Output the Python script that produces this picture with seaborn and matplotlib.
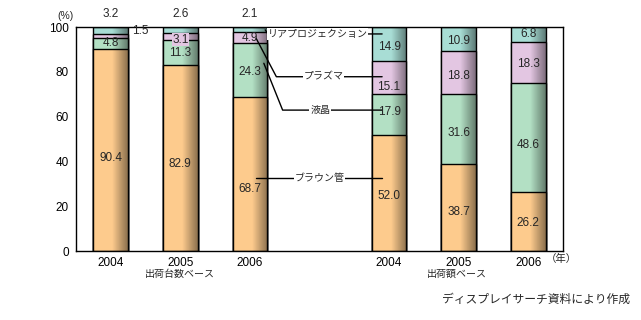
import numpy as np
import pandas as pd
import matplotlib
matplotlib.use("Agg")
import matplotlib.pyplot as plt
import seaborn as sns

# ---- data ----
positions = [0, 1, 2, 4, 5, 6]
years = ["2004", "2005", "2006", "2004", "2005", "2006"]
bases = ["出荷台数ベース", "出荷額ベース"]
series_names = ["ブラウン管", "液晶", "プラズマ", "リアプロジェクション"]
brown = [90.4, 82.9, 68.7, 52.0, 38.7, 26.2]
lcd = [4.8, 11.3, 24.3, 17.9, 31.6, 48.6]
plasma = [1.5, 3.1, 4.9, 15.1, 18.8, 18.3]
rear = [3.2, 2.6, 2.1, 14.9, 10.9, 6.8]

sns.set_style("white")
plt.rcParams["font.family"] = ["Liberation Sans", "Noto Sans CJK JP", "DejaVu Sans"]

c_orange = "#FDCB8D"
c_green = "#B3E0C4"
c_pink = "#E3C6E2"
c_teal = "#A8DDD5"

df = pd.DataFrame({"pos": positions, "year": years,
                   "brown": brown, "lcd": lcd, "plasma": plasma, "rear": rear})
df["c1"] = df["brown"]
df["c2"] = df["c1"] + df["lcd"]
df["c3"] = df["c2"] + df["plasma"]
df["c4"] = df["c3"] + df["rear"]

fig = plt.figure(figsize=(6.41, 3.2), dpi=100)
ax = fig.add_axes([76 / 641, (320 - 251) / 320, (563 - 76) / 641, 224 / 320])

first = True
for col, colr in [("c4", c_teal), ("c3", c_pink), ("c2", c_green), ("c1", c_orange)]:
    sns.barplot(data=df, x="pos", y=col, native_scale=True, color=colr, saturation=1,
                width=0.5, edgecolor="black", linewidth=1.0, errorbar=None, ax=ax, zorder=2)
    if first:
        top_patches = list(ax.patches)
        first = False

# cylinder-like shading on the right side of each bar
t = np.linspace(0, 1, 200)
alpha = np.clip((t - 0.55) / 0.45, 0, 1) * 0.45
grad = np.zeros((1, 200, 4))
grad[0, :, 3] = alpha
for p in top_patches:
    x0, w, h = p.get_x(), p.get_width(), p.get_height()
    ax.imshow(grad, extent=[x0, x0 + w, 0, h], aspect="auto", zorder=2.5,
              interpolation="bilinear")

ax.set_xlim(-0.5, 6.5)
ax.set_ylim(0, 100)
ax.set_xlabel("")
ax.set_ylabel("")
fs = 8.5
ax.set_xticks(positions, labels=years)
ax.set_xticks([0.5, 1.5, 2.5, 3.5, 4.5, 5.5], minor=True)
ax.tick_params(axis="x", which="major", length=0, pad=4, labelsize=fs)
ax.tick_params(axis="x", which="minor", direction="in", length=3, width=1, color="black")
ax.set_yticks(range(0, 101, 20))
ax.tick_params(axis="y", length=4, width=1, direction="out", pad=1, labelsize=fs, color="black")
ax.tick_params(axis="both", colors="black")
for s in ax.spines.values():
    s.set_visible(True)
    s.set_color("black")
    s.set_linewidth(1.0)

# value labels
brown_y = [41.6, 38.8, 27.7, 24.5, 17.5, 12.5]
lcd_y = [92.9, 88.5, 79.8, 62.0, 52.5, 47.3]
plasma_y = [98.2, 94.4, 95.2, 73.0, 78.1, 83.5]
rear_y = [105.6, 105.6, 105.6, 91.1, 93.8, 96.9]
for i, x in enumerate(positions):
    ax.text(x, brown_y[i], f"{brown[i]:.1f}", ha="center", va="center", fontsize=fs, zorder=6)
    ax.text(x, lcd_y[i], f"{lcd[i]:.1f}", ha="center", va="center", fontsize=fs, zorder=6)
    if i == 0:
        ax.text(x + 0.43, plasma_y[i], f"{plasma[i]:.1f}", ha="center", va="center", fontsize=fs, zorder=6)
    elif i == 1:
        ax.text(x, plasma_y[i], f"{plasma[i]:.1f}", ha="center", va="center", fontsize=fs, zorder=6,
                bbox=dict(facecolor=c_pink, edgecolor="none", pad=0.3))
    else:
        ax.text(x, plasma_y[i], f"{plasma[i]:.1f}", ha="center", va="center", fontsize=fs, zorder=6)
    ax.text(x, rear_y[i], f"{rear[i]:.1f}", ha="center", va="center", fontsize=fs, zorder=6)

# leader lines and series labels
lw = 1.0
lab_fs = 7.2
ax.plot([2.22, 2.26, 3.9], [98.7, 96.9, 96.9], color="black", lw=lw, zorder=5, clip_on=False)
ax.plot([2.09, 2.38, 3.9], [94.9, 77.8, 77.8], color="black", lw=lw, zorder=5)
ax.plot([2.20, 2.47, 3.9], [83.8, 62.9, 62.9], color="black", lw=lw, zorder=5)
ax.plot([2.09, 3.9], [32.4, 32.4], color="black", lw=lw, zorder=5)
wb = dict(facecolor="white", edgecolor="none", pad=0.6)
ax.text(2.97, 96.9, series_names[3], ha="center", va="center", fontsize=lab_fs, zorder=6, bbox=wb)
ax.text(3.06, 77.8, series_names[2], ha="center", va="center", fontsize=lab_fs, zorder=6, bbox=wb)
ax.text(3.01, 62.9, series_names[1], ha="center", va="center", fontsize=lab_fs, zorder=6, bbox=wb)
ax.text(3.0, 32.4, series_names[0], ha="center", va="center", fontsize=lab_fs, zorder=6, bbox=wb)

# axis annotations
ax.text(-0.65, 105.0, "(%)", ha="center", va="center", fontsize=7.5)
ax.text(1.0, -10.4, bases[0], ha="center", va="center", fontsize=7.2)
ax.text(4.98, -10.4, bases[1], ha="center", va="center", fontsize=7.2)
ax.text(6.47, -3.6, "（年）", ha="center", va="center", fontsize=7.5)
fig.text(630 / 641, 1 - 300 / 320, "ディスプレイサーチ資料により作成", ha="right", va="center", fontsize=8.5)

fig.savefig("out.png", dpi=100)
